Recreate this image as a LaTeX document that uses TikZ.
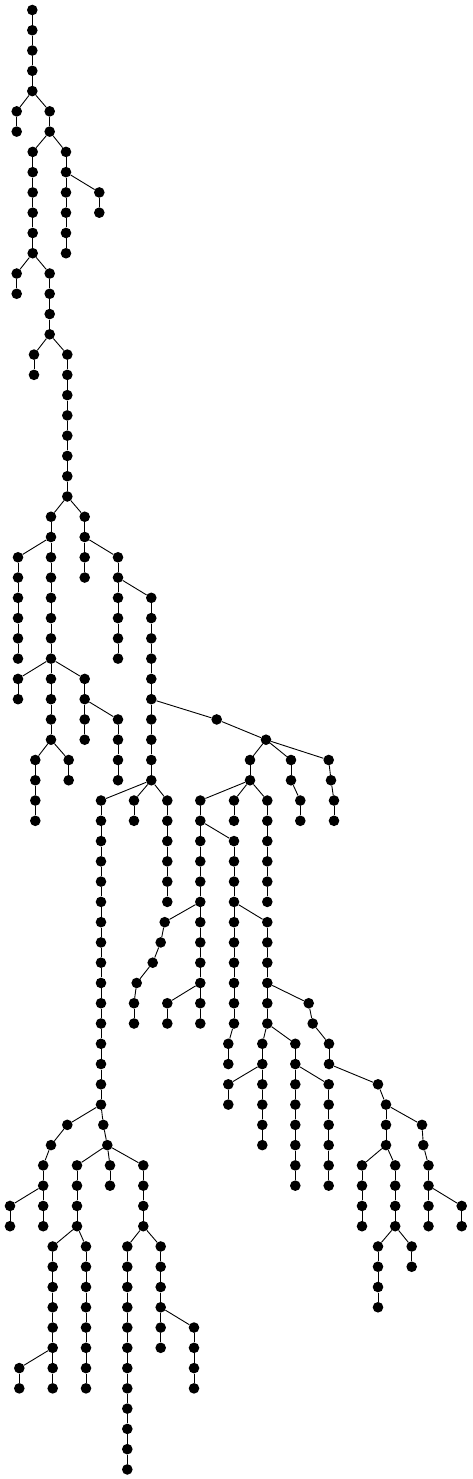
\documentclass[tikz,border=0pt]{standalone}
\tikzset{
  dot/.style={circle,fill=black,draw=none,inner sep=0pt,minimum size=10.6pt},
  edge/.style={draw=black,line width=0.9pt}
}
\newcommand\Chn[4]{%
  \foreach \l in {#3,...,#4}{\node[dot] (#1-\l) at (#2,{-(10+20.27*\l)}) {};}%
  \ifnum#3<#4\relax
    \pgfmathtruncatemacro\chst{#3+1}%
    \foreach \l [remember=\l as \p (initially #3)] in {\chst,...,#4}{\draw[edge] (#1-\p) -- (#1-\l);}%
  \fi}
\newcommand\Nd[3]{\node[dot] (#1) at (#2,{-(10+20.27*#3)}) {};}
\begin{document}
\begin{tikzpicture}[x=1pt,y=1pt]
\useasboundingbox (0,0) rectangle (472,-1479);
% chains
\Chn{A}{32.3}{0}{4}
\Chn{B}{16.7}{5}{6}
\Chn{C}{49.7}{5}{6}
\Chn{D}{32.7}{7}{12}
\Chn{E}{66}{7}{12}
\Chn{F}{99.3}{9}{10}
\Chn{G}{16.7}{13}{14}
\Chn{H}{49.7}{13}{16}
\Chn{I}{34}{17}{18}
\Chn{J}{67.3}{17}{24}
\Chn{K}{51}{25}{36}
\Chn{L}{84.7}{25}{28}
\Chn{M}{18}{27}{32}
\Chn{N}{118}{27}{32}
\Chn{O}{18}{33}{34}
\Chn{P}{84.7}{33}{36}
\Chn{Q}{118}{35}{38}
\Chn{R}{151.3}{29}{38}
\Chn{S}{35.3}{37}{40}
\Chn{T}{68.7}{37}{38}
\Chn{U}{216.7}{35}{35}
\Chn{V}{266}{36}{36}
\Chn{W}{250}{37}{38}
\Chn{Xa}{291}{37}{38}
\Chn{Xb}{300.3}{39}{40}
\Nd{Ya}{328.7}{37}
\Nd{Yb}{331}{38}
\Chn{Yc}{334}{39}{40}
\Chn{Z}{101}{39}{54}
\Chn{AA}{134}{39}{40}
\Chn{AB}{167.3}{39}{44}
\Chn{AC}{200.3}{39}{50}
\Chn{AD}{234}{39}{40}
\Chn{AE}{267.3}{39}{44}
\Chn{AF}{234}{41}{50}
\Chn{AG}{228.3}{51}{52}
\Nd{AHa}{164.7}{45}
\Nd{AHb}{160.7}{46}
\Nd{AHc}{152.7}{47}
\Nd{AHd}{136.7}{48}
\Chn{AHe}{134}{49}{50}
\Chn{AI}{167.3}{49}{50}
\Chn{AJ}{267.3}{45}{50}
\Nd{AKa}{308.7}{49}
\Nd{AKb}{312.7}{50}
\Chn{AKc}{329}{51}{52}
\Chn{AL}{262.3}{51}{56}
\Chn{AM}{228.3}{53}{54}
\Chn{AN}{295.3}{51}{58}
\Chn{AO}{328.7}{53}{58}
\Nd{APa}{378}{53}
\Chn{APb}{386}{54}{56}
\Nd{AQa}{422}{55}
\Nd{AQb}{423.3}{56}
\Chn{AQc}{428.5}{57}{60}
\Chn{AR}{461.7}{59}{60}
\Chn{AS}{362}{57}{60}
\Chn{AT}{395.2}{57}{60}
\Chn{AU}{378}{61}{64}
\Chn{AV}{411.7}{61}{62}
\Nd{AWa}{67.3}{55}
\Nd{AWb}{51}{56}
\Chn{AWc}{43.2}{57}{60}
\Chn{AX}{10}{59}{60}
\Nd{AYa}{103.3}{55}
\Nd{AYb}{107.3}{56}
\Chn{AZ}{77}{57}{60}
\Chn{BA}{110}{57}{58}
\Chn{BB}{143.3}{57}{60}
\Chn{BC}{52.7}{61}{68}
\Chn{BD}{19.3}{67}{68}
\Chn{BE}{86}{61}{68}
\Chn{BF}{127.3}{61}{72}
\Chn{BG}{160.7}{61}{66}
\Chn{BH}{194}{65}{68}
% cross edges
\draw[edge] (A-4) -- (B-5);
\draw[edge] (A-4) -- (C-5);
\draw[edge] (C-6) -- (D-7);
\draw[edge] (C-6) -- (E-7);
\draw[edge] (E-8) -- (F-9);
\draw[edge] (D-12) -- (G-13);
\draw[edge] (D-12) -- (H-13);
\draw[edge] (H-16) -- (I-17);
\draw[edge] (H-16) -- (J-17);
\draw[edge] (J-24) -- (K-25);
\draw[edge] (J-24) -- (L-25);
\draw[edge] (K-26) -- (M-27);
\draw[edge] (L-26) -- (N-27);
\draw[edge] (K-32) -- (O-33);
\draw[edge] (K-32) -- (P-33);
\draw[edge] (P-34) -- (Q-35);
\draw[edge] (N-28) -- (R-29);
\draw[edge] (K-36) -- (S-37);
\draw[edge] (K-36) -- (T-37);
\draw[edge] (R-34) -- (U-35);
\draw[edge] (U-35) -- (V-36);
\draw[edge] (V-36) -- (W-37);
\draw[edge] (V-36) -- (Xa-37);
\draw[edge] (V-36) -- (Ya);
\draw[edge] (Xa-38) -- (Xb-39);
\draw[edge] (Ya) -- (Yb);
\draw[edge] (Yb) -- (Yc-39);
\draw[edge] (R-38) -- (Z-39);
\draw[edge] (R-38) -- (AA-39);
\draw[edge] (R-38) -- (AB-39);
\draw[edge] (W-38) -- (AC-39);
\draw[edge] (W-38) -- (AD-39);
\draw[edge] (W-38) -- (AE-39);
\draw[edge] (AC-40) -- (AF-41);
\draw[edge] (AC-44) -- (AHa);
\draw[edge] (AHa) -- (AHb);
\draw[edge] (AHb) -- (AHc);
\draw[edge] (AHc) -- (AHd);
\draw[edge] (AHd) -- (AHe-49);
\draw[edge] (AC-48) -- (AI-49);
\draw[edge] (AF-44) -- (AJ-45);
\draw[edge] (AF-50) -- (AG-51);
\draw[edge] (AJ-48) -- (AKa);
\draw[edge] (AKa) -- (AKb);
\draw[edge] (AKb) -- (AKc-51);
\draw[edge] (AJ-50) -- (AL-51);
\draw[edge] (AJ-50) -- (AN-51);
\draw[edge] (AL-52) -- (AM-53);
\draw[edge] (AN-52) -- (AO-53);
\draw[edge] (AKc-52) -- (APa);
\draw[edge] (APa) -- (APb-54);
\draw[edge] (APb-54) -- (AQa);
\draw[edge] (AQa) -- (AQb);
\draw[edge] (AQb) -- (AQc-57);
\draw[edge] (APb-56) -- (AS-57);
\draw[edge] (APb-56) -- (AT-57);
\draw[edge] (AQc-58) -- (AR-59);
\draw[edge] (AT-60) -- (AU-61);
\draw[edge] (AT-60) -- (AV-61);
\draw[edge] (Z-54) -- (AWa);
\draw[edge] (Z-54) -- (AYa);
\draw[edge] (AWa) -- (AWb);
\draw[edge] (AWb) -- (AWc-57);
\draw[edge] (AWc-58) -- (AX-59);
\draw[edge] (AYa) -- (AYb);
\draw[edge] (AYb) -- (AZ-57);
\draw[edge] (AYb) -- (BA-57);
\draw[edge] (AYb) -- (BB-57);
\draw[edge] (AZ-60) -- (BC-61);
\draw[edge] (AZ-60) -- (BE-61);
\draw[edge] (BB-60) -- (BF-61);
\draw[edge] (BB-60) -- (BG-61);
\draw[edge] (BC-66) -- (BD-67);
\draw[edge] (BG-64) -- (BH-65);
\end{tikzpicture}
\end{document}
